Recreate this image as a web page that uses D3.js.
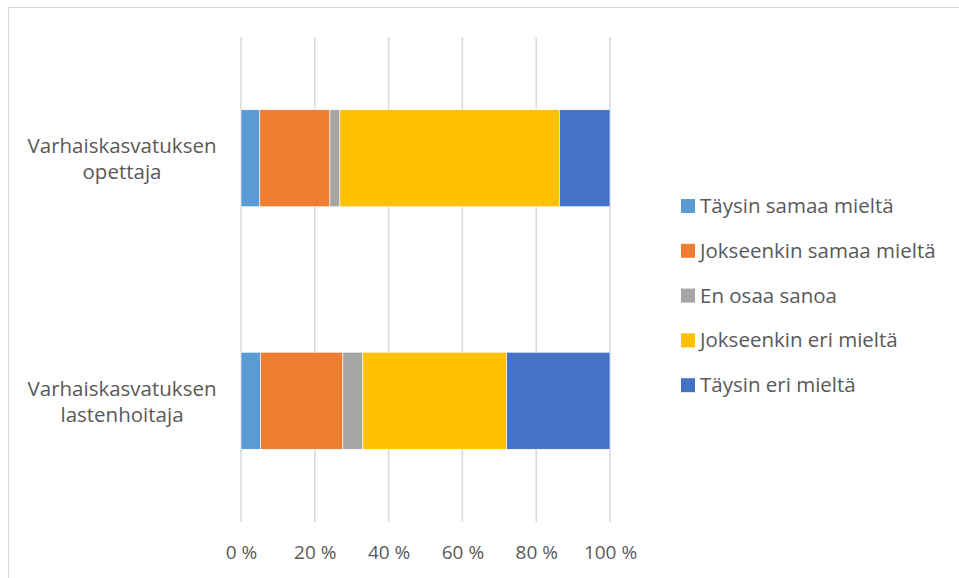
<!DOCTYPE html>
<html>
<head>
<meta charset="utf-8">
<script src="https://cdn.jsdelivr.net/npm/d3@7"></script>
<style>
  body { margin: 0; background: #fff; }
  svg text { font-family: "Open Sans", "Noto Sans", sans-serif; fill: #595959; }
</style>
</head>
<body>
<svg id="chart" width="959" height="578"></svg>
<script>
let width = 959;
let height = 578;

// data (percent)
let categories = ["Varhaiskasvatuksen opettaja", "Varhaiskasvatuksen lastenhoitaja"];
let seriesNames = ["Täysin samaa mieltä", "Jokseenkin samaa mieltä", "En osaa sanoa", "Jokseenkin eri mieltä", "Täysin eri mieltä"];
let seriesColors = ["#5b9bd5", "#ed7d31", "#a5a5a5", "#ffc000", "#4472c4"];
let opettaja = [5.1, 19.0, 2.7, 59.5, 13.7];
let lastenhoitaja = [5.3, 22.3, 5.4, 39.0, 28.0];
let xTicks = [0, 20, 40, 60, 80, 100];

let rows = [opettaja, lastenhoitaja];
let margin = {top: 37, left: 241, right: 349, bottom: 56};

let svg = d3.select('#chart');

// outer frame like the office chart area
svg.append('rect')
    .attr('x', 8.5).attr('y', 7.5)
    .attr('width', 960).attr('height', 580)
    .attr('fill', 'none')
    .attr('stroke', '#d9d9d9');

let xScale = d3.scaleLinear().domain([0, 100]).range([margin.left, width - margin.right]);
let yScale = d3.scaleBand().domain(categories)
    .range([margin.top, height - margin.bottom])
    .paddingInner(0.6).paddingOuter(0.3);

// gridlines
svg.append('g')
    .selectAll('line')
    .data(xTicks)
    .enter()
    .append('line')
    .attr('x1', d => xScale(d)).attr('x2', d => xScale(d))
    .attr('y1', margin.top).attr('y2', height - margin.bottom)
    .attr('stroke', '#d9d9d9')
    .attr('stroke-width', 1.5);

// stacked bars
let stackData = categories.map((c, i) => {
    let o = {cat: c};
    seriesNames.forEach((s, j) => o[s] = rows[i][j]);
    return o;
});
let stacked = d3.stack().keys(seriesNames)(stackData);

svg.append('g')
    .selectAll('g')
    .data(stacked)
    .enter()
    .append('g')
    .attr('fill', (d, i) => seriesColors[i])
    .selectAll('rect')
    .data(d => d)
    .enter()
    .append('rect')
    .attr('x', d => xScale(d[0]))
    .attr('width', d => xScale(d[1]) - xScale(d[0]))
    .attr('y', d => yScale(d.data.cat))
    .attr('height', yScale.bandwidth())
    .attr('stroke', '#fff')
    .attr('stroke-width', 0.6);

// x axis labels
let xAxis = d3.axisBottom(xScale)
    .tickValues(xTicks)
    .tickSize(0)
    .tickPadding(0)
    .tickFormat(d => d + ' %');
let xg = svg.append('g')
    .attr('transform', 'translate(0,559)')
    .call(xAxis);
xg.select('.domain').remove();
xg.selectAll('text')
    .attr('dy', 0)
    .attr('font-size', 19)
    .attr('fill', '#595959')
    .attr('font-family', '"Open Sans", sans-serif');

// category labels (two lines each)
let catG = svg.append('g');
categories.forEach(c => {
    let words = c.split(' ');
    let cy = yScale(c) + yScale.bandwidth() / 2;
    words.forEach((w, i) => {
        catG.append('text')
            .attr('text-anchor', 'middle')
            .attr('font-size', 20.5)
            .attr('x', 122)
            .attr('y', cy - 5 + i * 26)
            .text(w);
    });
});

// legend
let legend = svg.append('g')
    .attr('class', 'legend')
    .attr('transform', 'translate(681,199)');
let items = legend.selectAll('g')
    .data(seriesNames)
    .enter()
    .append('g')
    .attr('transform', (d, i) => 'translate(0,' + (i * 44.8) + ')');
items.append('rect')
    .attr('width', 14).attr('height', 14)
    .attr('fill', (d, i) => seriesColors[i]);
items.append('text')
    .attr('x', 19)
    .attr('y', 14)
    .attr('font-size', 20.5)
    .text(d => d);
</script>
</body>
</html>
